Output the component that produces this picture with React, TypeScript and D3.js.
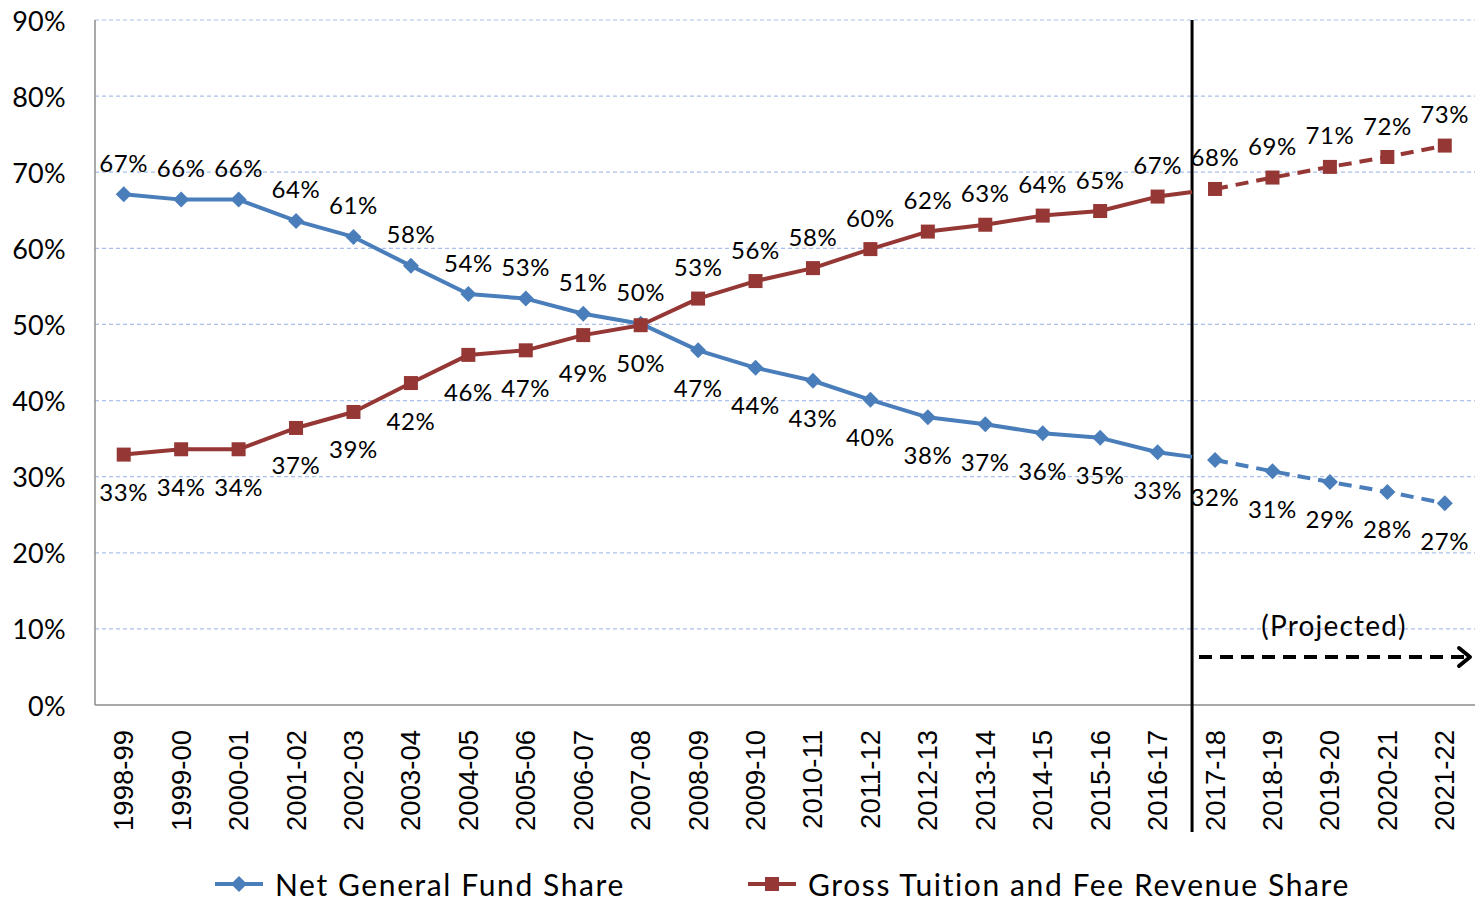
import React from "react";
import * as d3 from "d3";

const categories = ["1998-99","1999-00","2000-01","2001-02","2002-03","2003-04","2004-05","2005-06","2006-07","2007-08","2008-09","2009-10","2010-11","2011-12","2012-13","2013-14","2014-15","2015-16","2016-17","2017-18","2018-19","2019-20","2020-21","2021-22"];
const netGeneralFund = [67.1,66.4,66.4,63.6,61.5,57.7,54.0,53.4,51.4,50.1,46.6,44.3,42.6,40.1,37.8,36.9,35.7,35.1,33.2,32.2,30.7,29.3,28.0,26.5];
const grossTuition = [32.9,33.6,33.6,36.4,38.5,42.3,46.0,46.6,48.6,49.9,53.4,55.7,57.4,59.9,62.2,63.1,64.3,64.9,66.8,67.8,69.3,70.7,72.0,73.5];
const netLabels = ["67%","66%","66%","64%","61%","58%","54%","53%","51%","50%","47%","44%","43%","40%","38%","37%","36%","35%","33%","32%","31%","29%","28%","27%"];
const grossLabels = ["33%","34%","34%","37%","39%","42%","46%","47%","49%","50%","53%","56%","58%","60%","62%","63%","64%","65%","67%","68%","69%","71%","72%","73%"];
const yTicks = [0,10,20,30,40,50,60,70,80,90];
const firstProjected = 19;
const seriesNames = ["Net General Fund Share", "Gross Tuition and Fee Revenue Share"];

const BLUE = "#4a7ebb";
const RED = "#953735";
const FONT = "Lato, 'Open Sans', sans-serif";

export default function App() {
  const left = 95, right = 1473.5, top = 20, bottom = 705;
  const x = d3.scaleBand<string>().domain(categories).range([left, right]).paddingInner(0).paddingOuter(0);
  const cx = (i: number) => (x(categories[i]) as number) + x.bandwidth() / 2;
  const y = d3.scaleLinear().domain([0, 90]).range([bottom, top]);
  const splitFrac = 0.6;
  const splitX = cx(firstProjected - 1) + splitFrac * x.bandwidth();

  const line = d3.line<[number, number]>().x(d => d[0]).y(d => d[1]);

  const solidPts = (vals: number[]) => {
    const pts: [number, number][] = vals.slice(0, firstProjected).map((v, i) => [cx(i), y(v)]);
    const a = vals[firstProjected - 1], b = vals[firstProjected];
    pts.push([splitX, y(a + splitFrac * (b - a))]);
    return pts;
  };
  const dashPts = (vals: number[]) =>
    vals.slice(firstProjected).map((v, i) => [cx(i + firstProjected), y(v)] as [number, number]);

  const diamond = (px: number, py: number, s = 8) =>
    `M${px},${py - s}L${px + s},${py}L${px},${py + s}L${px - s},${py}Z`;

  const crossIdx = 9;

  return (
    <svg width={1478} height={901} style={{ position: "absolute", left: 0, top: 0, background: "#fff" }}>
      {/* gridlines */}
      {yTicks.filter(t => t > 0).map(t => (
        <line key={t} x1={left} x2={1475} y1={y(t)} y2={y(t)} stroke="#a9c0ec" strokeWidth={1.2} strokeDasharray="4,3" />
      ))}
      {/* axes */}
      <line x1={left} x2={left} y1={top} y2={bottom} stroke="#8c8c8c" strokeWidth={1.5} />
      <line x1={left} x2={1475} y1={bottom} y2={bottom} stroke="#8c8c8c" strokeWidth={1.5} />
      {/* y tick labels */}
      {yTicks.map(t => (
        <text key={t} x={66} y={y(t)} textAnchor="end" dominantBaseline="central" fontFamily={FONT} fontSize={27} letterSpacing={0.3} fill="#000">{t}%</text>
      ))}
      {/* x tick labels */}
      {categories.map((c, i) => (
        <text key={c} transform={`translate(${cx(i)},${730}) rotate(-90)`} textAnchor="end" dominantBaseline="central" fontFamily="'Liberation Sans', Arial, sans-serif" fontSize={27.5} fill="#000">{c}</text>
      ))}
      {/* vertical separator */}
      <line x1={splitX} x2={splitX} y1={top} y2={832} stroke="#000" strokeWidth={3} />
      {/* projected arrow */}
      <line x1={1199} x2={1466} y1={657} y2={657} stroke="#000" strokeWidth={4} strokeDasharray="13,8" />
      <path d="M1459,648L1470,657L1459,666" fill="none" stroke="#000" strokeWidth={4} strokeLinecap="round" strokeLinejoin="round" />
      <text x={1334} y={625} textAnchor="middle" dominantBaseline="central" fontFamily={FONT} fontSize={28} letterSpacing={1.2} fill="#000">(Projected)</text>

      {/* series lines */}
      <path d={line(solidPts(netGeneralFund)) as string} fill="none" stroke={BLUE} strokeWidth={4} strokeLinejoin="round" />
      <path d={line(dashPts(netGeneralFund)) as string} fill="none" stroke={BLUE} strokeWidth={4} strokeDasharray="13,8" />
      <path d={line(solidPts(grossTuition)) as string} fill="none" stroke={RED} strokeWidth={4} strokeLinejoin="round" />
      <path d={line(dashPts(grossTuition)) as string} fill="none" stroke={RED} strokeWidth={4} strokeDasharray="13,8" />

      {/* markers */}
      {netGeneralFund.map((v, i) => (
        <path key={"b" + i} d={diamond(cx(i), y(v))} fill={BLUE} />
      ))}
      {grossTuition.map((v, i) => (
        <rect key={"r" + i} x={cx(i) - 7} y={y(v) - 7} width={14} height={14} fill={RED} />
      ))}

      {/* data labels */}
      {netGeneralFund.map((v, i) => (
        <text key={"bl" + i} x={cx(i)} y={y(v) + (i <= crossIdx ? -32 : 37)} textAnchor="middle" dominantBaseline="central" fontFamily={FONT} fontSize={24} letterSpacing={0.6} fill="#000">{netLabels[i]}</text>
      ))}
      {grossTuition.map((v, i) => (
        <text key={"rl" + i} x={cx(i)} y={y(v) + (i <= crossIdx ? 37 : -32)} textAnchor="middle" dominantBaseline="central" fontFamily={FONT} fontSize={24} letterSpacing={0.6} fill="#000">{grossLabels[i]}</text>
      ))}

      {/* legend */}
      <g>
        <line x1={215} x2={263} y1={884} y2={884} stroke={BLUE} strokeWidth={4} />
        <path d={diamond(239, 884)} fill={BLUE} />
        <text x={275} y={884} dominantBaseline="central" fontFamily={FONT} fontSize={30} letterSpacing={1.6} fill="#000">{seriesNames[0]}</text>
        <line x1={748} x2={796} y1={884} y2={884} stroke={RED} strokeWidth={4} />
        <rect x={765} y={877} width={14} height={14} fill={RED} />
        <text x={808} y={884} dominantBaseline="central" fontFamily={FONT} fontSize={30} letterSpacing={1.6} fill="#000">{seriesNames[1]}</text>
      </g>
    </svg>
  );
}
